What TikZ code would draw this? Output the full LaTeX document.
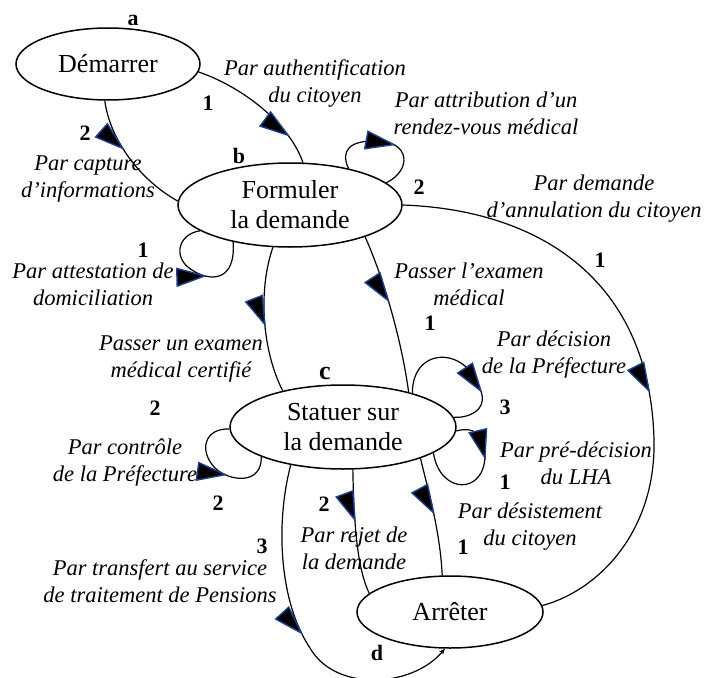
\documentclass[tikz,border=0pt]{standalone}
\usepackage{fontspec}
\setmainfont{Liberation Serif}
\usetikzlibrary{arrows.meta,decorations.markings,shapes.geometric}
\definecolor{tipblue}{HTML}{1C3F94}

\tikzset{
  etat/.style={ellipse,draw,line width=1.5pt,inner sep=0pt,align=center,
    font=\fontsize{26}{30}\selectfont},
  lbl/.style={font=\fontsize{22.5}{27}\selectfont\itshape,align=center,inner sep=0pt},
  num/.style={font=\fontsize{22}{26}\selectfont\bfseries,inner sep=0pt},
  trans/.style={line width=1.2pt},
  % demi-fleche posee a droite du trait
  midtip/.style={postaction={decorate,decoration={markings,
    mark=at position #1 with {\filldraw[fill=black,draw=tipblue,line width=1.4pt,
      line join=miter] (0pt,0pt) -- (-29pt,0pt) -- (-24pt,-17pt) -- cycle;}}}}
}

\begin{document}
\begin{tikzpicture}[x=1pt,y=-1pt]
  \useasboundingbox (0,0) rectangle (706,677);

  % etats
  \node[etat,minimum width=184pt,minimum height=72pt] (demarrer) at (108,64) {Démarrer};
  \node[etat,minimum width=224pt,minimum height=84pt] (formuler) at (290,205) {Formuler\\la demande};
  \node[etat,minimum width=226pt,minimum height=84pt] (statuer) at (343,427) {Statuer sur\\la demande};
  \node[etat,minimum width=186pt,minimum height=72pt] (arreter) at (450,612) {Arrêter};

  % transitions
  \draw[trans,midtip=0.78] (demarrer.-5) .. controls (245,88) and (290,125) .. (formuler.73);
  \draw[trans,midtip=0.4] (demarrer.-95) .. controls (110,140) and (140,180) .. (formuler.178);
  \draw[trans,midtip=0.58] (formuler.32) .. controls (340,150) and (350,140) .. (378,141)
    .. controls (410,142) and (412,170) .. (formuler.13);
  \draw[trans,midtip=0.56] (formuler.0) .. controls (540,210) and (650,280) .. (654,440)
    .. controls (656,530) and (600,590) .. (arreter.4);
  \draw[trans,midtip=0.56] (formuler.196) .. controls (178,234) and (172,258) .. (192,270)
    .. controls (210,282) and (236,282) .. (formuler.213);
  \draw[trans,midtip=0.53] (formuler.-112) .. controls (258,290) and (262,350) .. (statuer.149);
  \draw[trans,midtip=0.42] (formuler.-23) .. controls (380,270) and (400,330) .. (statuer.28);
  \draw[trans,midtip=0.7] (statuer.26) .. controls (412,345) and (470,345) .. (482,395)
    .. controls (485,410) and (470,418) .. (statuer.5);
  \draw[trans,midtip=0.36] (statuer.-2) .. controls (478,425) and (485,440) .. (485,455)
    .. controls (485,495) and (440,495) .. (statuer.-16);
  \draw[trans,midtip=0.47] (statuer.-22) .. controls (428,490) and (440,530) .. (arreter.102);
  \draw[trans,midtip=0.4] (statuer.-77) .. controls (354,530) and (358,570) .. (arreter.167);
  \draw[trans,midtip=0.5,-{Stealth[length=6pt,width=5pt]}] (statuer.216)
    .. controls (276,520) and (278,600) .. (310,648)
    .. controls (335,692) and (412,688) .. (arreter.-98);
  \draw[trans,midtip=0.58] (statuer.181) .. controls (205,428) and (198,450) .. (215,468)
    .. controls (230,482) and (262,485) .. (statuer.200);

  % libelles des transitions
  \foreach \p/\t [count=\i] in {
      (315,84)/{Par authentification\\du citoyen},
      (88,179)/{Par capture\\d’informations},
      (486,113)/{Par attribution d’un\\rendez-vous médical},
      (594,199)/{Par demande\\d’annulation du citoyen},
      (93,284)/{Par attestation de\\domiciliation},
      (181,359)/{Passer un examen\\médical certifié},
      (469,284)/{Passer l’examen\\médical},
      (554,355)/{Par décision\\de la Préfecture},
      (576,463)/{Par pré-décision\\du LHA},
      (530,527)/{Par désistement\\du citoyen},
      (354,548)/{Par rejet de\\la demande},
      (160,581)/{Par transfert au service\\de traitement de Pensions},
      (125,463)/{Par contrôle\\de la Préfecture}}
    \node[lbl] (lab\i) at \p {\t};

  % poids
  \foreach \p/\t [count=\i] in {(208,103)/1,(85,133)/2,(419,187)/2,(600,260)/1,
      (143,250)/1,(155,408)/2,(430,323)/1,(505,407)/3,(505,482)/1,
      (463,547)/1,(324,504)/2,(262,546)/3,(218,503)/2}
    \node[num] (poids\i) at \p {\t};

  % reperes
  \node[num] (ra) at (133,20) {a};
  \node[num] (rb) at (239,156) {b};
  \node[num,font=\fontsize{26}{30}\selectfont\bfseries] (rc) at (325,373) {c};
  \node[num] (rd) at (377,653) {d};
\end{tikzpicture}
\end{document}
